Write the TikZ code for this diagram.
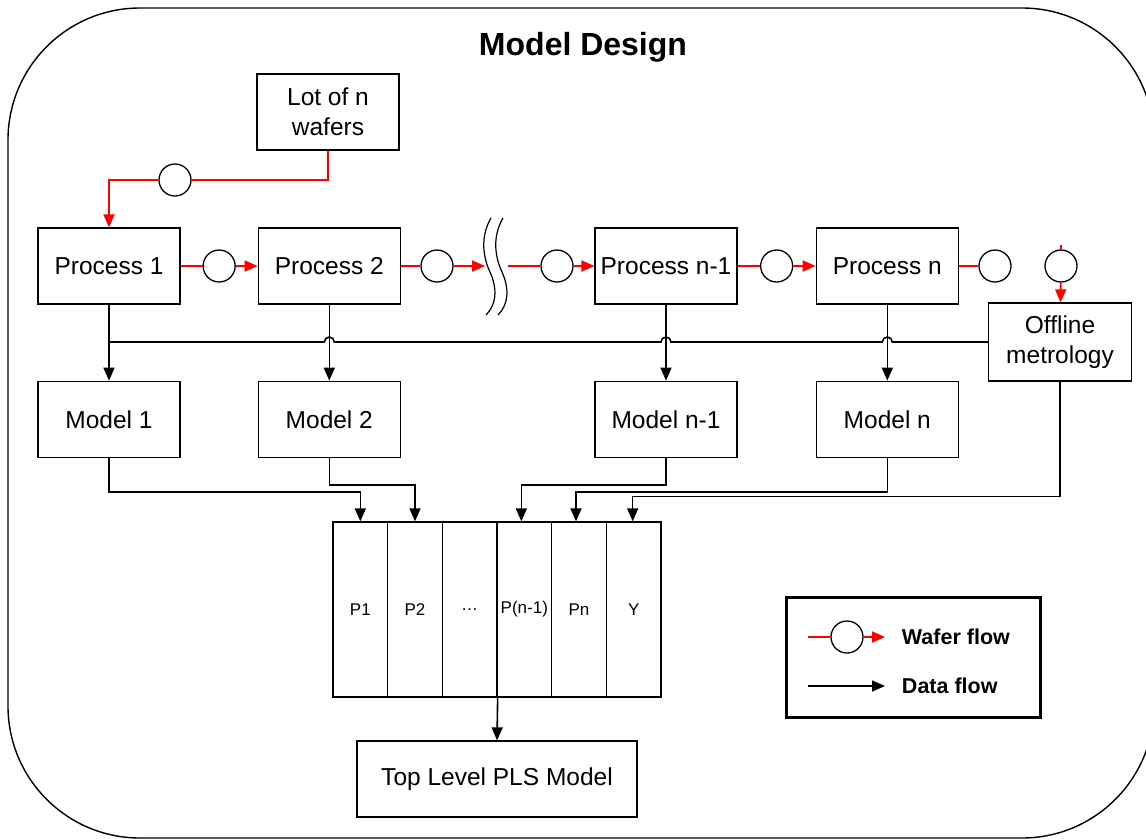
\documentclass[tikz,border=0pt]{standalone}
\usepackage{fontspec}
\setmainfont{Liberation Sans}
\usetikzlibrary{arrows.meta,calc,positioning}
\tikzset{
design/.style={x=1pt,y=-1pt,>={Triangle[length=13pt,width=11pt]},line width=1.3pt},
block/.style={draw,minimum width=142pt,minimum height=76pt,inner sep=0pt,
align=center,font=\fontsize{24.5}{30}\selectfont},
wafer/.style={circle,draw,fill=white,minimum size=32pt,inner sep=0pt},
column/.style={draw,minimum width=54.67pt,minimum height=175pt,inner sep=0pt,
font=\fontsize{17}{20}\selectfont},
wflow/.style={red,line width=1.8pt},
dflow/.style={black,line width=1.6pt},
legend text/.style={anchor=west,font=\bfseries\fontsize{21.5}{25}\selectfont},
}

\begin{document}
\begin{tikzpicture}[design]
\useasboundingbox (0,0) rectangle (1146,839);
\draw[line width=1.4pt,rounded corners=132pt] (8,8) rectangle (1154,838);
\node[font=\bfseries\fontsize{32}{38}\selectfont] (title) at (583,47) {Model Design};

% process line
\node[block] (lot) at (328,112) {Lot of n\\wafers};
\node[block] (p1) at (109,266) {Process 1};
\node[block] (p2) [right=77pt of p1] {Process 2};
\node[block] (pn1) at (666,266) {Process n-1};
\node[block] (pn) [right=78pt of pn1] {Process n};
\node[block,minimum width=143pt,minimum height=78pt] (off) at (1060,342) {Offline\\metrology};

\node[block] (m1) [below=76pt of p1] {Model 1};
\node[block] (m2) [below=76pt of p2] {Model 2};
\node[block] (mn1) [below=76pt of pn1] {Model n-1};
\node[block] (mn) [below=76pt of pn] {Model n};

% wafers between the steps
\node[wafer] (w0) at (175,180) {};
\node[wafer] (w1) at ($(p1.east)!0.5!(p2.west)$) {};
\node[wafer] (w2) at (437,266) {};
\node[wafer] (w3) at (557,266) {};
\node[wafer] (w4) at ($(pn1.east)!0.5!(pn.west)$) {};
\node[wafer] (w5) at (995,266) {};
\node[wafer] (w6) at (1061,266) {};
\coordinate (b1) at (485,266);
\coordinate (b2) at (508,266);
\coordinate (in) at (1061,245);

% break in the line
\draw[line width=1.2pt] (491,218) .. controls (481,235) and (482,255) .. (490,272)
  .. controls (498,290) and (496,305) .. (486,315);
\draw[line width=1.2pt] (503,218) .. controls (493,235) and (494,255) .. (502,272)
  .. controls (510,290) and (508,305) .. (498,315);

\draw[wflow] (lot.south) |- (w0);
\draw[wflow,->] (w0) -| (p1.north);
\draw[wflow] (p1) -- (w1);
\draw[wflow,->] (w1) -- (p2);
\draw[wflow] (p2) -- (w2);
\draw[wflow,->] (w2) -- (b1);
\draw[wflow] (b2) -- (w3);
\draw[wflow,->] (w3) -- (pn1);
\draw[wflow] (pn1) -- (w4);
\draw[wflow,->] (w4) -- (pn);
\draw[wflow] (pn) -- (w5);
\draw[wflow] (in) -- (w6);
\draw[wflow,->] (w6) -- (off);

% data to the models
\draw[dflow] (off.west) -- ($(pn.south |- off.west)+(5,0)$)
  arc[start angle=0,end angle=180,radius=5pt]
  -- ($(pn1.south |- off.west)+(5,0)$)
  arc[start angle=0,end angle=180,radius=5pt]
  -- ($(p2.south |- off.west)+(5,0)$)
  arc[start angle=0,end angle=180,radius=5pt]
  -- (p1.south |- off.west);
\draw[dflow,->] (p1) -- (m1);
\draw[dflow,->] (p2) -- (m2);
\draw[dflow,->] (pn1) -- (mn1);
\draw[dflow,->] (pn) -- (mn);

% PLS matrix
\foreach \lab [count=\i] in {P1,P2,…,P(n-1),Pn,Y}
  \node[column] (c\i) at ({360.33+(\i-1)*54.67},609.5) {\lab};
\node[block,minimum width=280pt] (top) at (497,779) {Top Level PLS Model};

\draw[dflow,->] (m1.south) -- ++(0,34) -| (c1.north);
\draw[dflow,->] (m2.south) -- ++(0,27) -| (c2.north);
\draw[dflow,->] (mn1.south) -- ++(0,27) -| ($(c4.north)+(-3,0)$);
\draw[dflow,->] (mn.south) -- ++(0,34) -| ($(c5.north)+(-3,0)$);
\draw[dflow,->] (off.south) -- ++(0,115) -| ($(c6.north)+(-1,0)$);
\draw[dflow,->] (c3.south east) -- (top.north);

% legend
\draw[line width=3pt] (786,597) rectangle (1040,717);
\node[wafer] (lw) at (847,637) {};
\coordinate (la) at (808,637);
\coordinate (lb) at (885,637);
\coordinate (lc) at (808,686);
\coordinate (ld) at (885,686);
\draw[wflow] (la) -- (lw);
\draw[wflow,->] (lw) -- (lb);
\draw[dflow,->] (lc) -- (ld);
\node[legend text] (lt1) at (898,637) {Wafer flow};
\node[legend text] (lt2) at (898,686) {Data flow};
\end{tikzpicture}
\end{document}
